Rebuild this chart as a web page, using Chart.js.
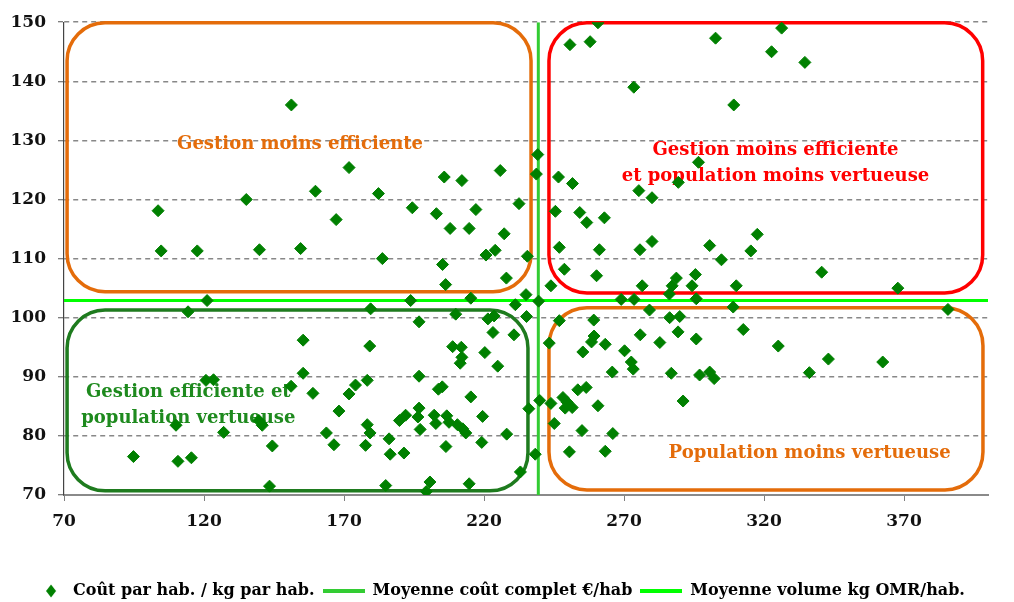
<!DOCTYPE html>
<html>
<head>
<meta charset="utf-8">
<script src="https://cdn.jsdelivr.net/npm/chart.js@4.4.1/dist/chart.umd.min.js"></script>
<style>
  html, body { margin: 0; background: #fff; }
</style>
</head>
<body>
<canvas id="chart" width="1014" height="602"></canvas>
<script>
// tick labels of the cost axis
const xTicks = [70, 120, 170, 220, 270, 320, 370];

// coût par hab. (€) for each collectivity
const coutParHab = [
  103.6, 104.7, 117.6, 151.2, 135.1, 139.8, 154.5, 159.8, 167.2, 171.8,
  182.3, 183.7, 194.4, 193.8, 239.2, 238.7, 205.8, 212.1, 225.8, 203.0,
  217.1, 232.5, 207.9, 214.7, 227.2, 224.0, 220.7, 235.5, 246.6, 251.6,
  275.3, 280.0, 245.5, 254.2, 256.7, 263.0, 273.5, 250.7, 257.9, 260.7,
  246.9, 261.2, 275.7, 280.0, 302.7, 326.3, 322.7, 334.6, 309.2, 296.6,
  289.4, 300.6, 317.6, 315.3, 304.8, 205.2, 206.3, 215.3, 228.0, 235.0,
  239.5, 248.7, 243.9, 260.2, 276.5, 288.7, 287.2, 286.2, 295.5, 294.3,
  310.1, 269.0, 273.6, 295.8, 340.6, 367.8, 385.7, 309.0, 286.3, 289.9,
  289.3, 295.8, 312.6, 325.1, 343.0, 362.4, 336.2, 286.9, 297.0, 300.6,
  302.2, 291.1, 282.8, 279.1, 275.8, 270.2, 265.8, 273.3, 272.6, 246.9,
  243.3, 255.3, 259.2, 259.3, 258.4, 263.3, 243.9, 248.2, 249.7, 251.5,
  249.0, 253.5, 256.5, 260.7, 245.1, 255.0, 266.0, 250.5, 263.3, 231.2,
  235.2, 209.9, 196.8, 221.4, 223.6, 223.2, 230.7, 179.2, 208.8, 211.9,
  212.1, 211.5, 220.3, 224.9, 179.5, 196.8, 178.3, 174.1, 171.8,
  203.7, 205.1, 215.3, 168.2, 163.7, 166.4, 178.3, 179.3, 177.7, 186.1,
  186.5, 191.4, 189.8, 192.0, 196.8, 196.4, 197.2, 202.2, 202.8, 206.7,
  207.5, 210.5, 212.4, 213.5, 219.5, 219.2, 206.4, 228.1, 236.0, 239.9,
  238.3, 233.0, 184.9, 200.7, 199.4, 214.7, 121.1, 114.3, 155.4, 155.4,
  120.7, 123.4, 151.1, 158.9, 139.6, 140.8, 110.0, 127.0, 144.4, 94.8,
  110.7, 115.5, 143.4
];

// kg OMR par hab. for the same collectivities
const kgParHab = [
  118.1, 111.3, 111.3, 136.0, 120.0, 111.5, 111.7, 121.4, 116.6, 125.4,
  121.0, 110.0, 118.6, 102.9, 127.6, 124.3, 123.8, 123.2, 124.9, 117.6,
  118.3, 119.3, 115.1, 115.1, 114.2, 111.4, 110.6, 110.4, 123.8, 122.7,
  121.5, 120.3, 118.0, 117.8, 116.1, 116.9, 139.0, 146.2, 146.7, 149.9,
  111.9, 111.5, 111.5, 112.9, 147.3, 149.0, 145.0, 143.2, 136.0, 126.3,
  122.9, 112.2, 114.1, 111.3, 109.8, 109.0, 105.6, 103.3, 106.7, 103.9,
  102.8, 108.2, 105.4, 107.1, 105.4, 106.7, 105.4, 104.0, 107.3, 105.4,
  105.4, 103.1, 103.1, 103.2, 107.7, 105.0, 101.4, 101.8, 100.0, 100.2,
  97.6, 96.4, 98.0, 95.2, 93.0, 92.5, 90.7, 90.6, 90.3, 90.8,
  89.7, 85.9, 95.8, 101.3, 97.1, 94.4, 90.8, 91.3, 92.5, 99.5,
  95.7, 94.2, 99.6, 96.9, 95.9, 95.5, 85.5, 86.5, 85.7, 84.8,
  84.7, 87.8, 88.2, 85.1, 82.1, 80.9, 80.4, 77.3, 77.4, 102.2,
  100.2, 100.6, 99.3, 99.8, 100.3, 97.5, 97.1, 95.2, 95.1, 95.0,
  93.3, 92.3, 94.1, 91.8, 101.5, 90.1, 89.4, 88.6, 87.1,
  87.9, 88.3, 86.6, 84.2, 80.5, 78.5, 81.9, 80.5, 78.4, 79.5,
  76.9, 77.1, 82.6, 83.5, 84.7, 83.2, 81.1, 83.5, 82.1, 83.4,
  82.3, 81.9, 81.2, 80.5, 83.3, 78.9, 78.2, 80.3, 84.6, 86.0,
  76.9, 73.9, 71.6, 72.2, 70.6, 71.9, 102.9, 101.0, 96.2, 90.6,
  89.4, 89.5, 88.4, 87.2, 82.6, 81.8, 81.8, 80.6, 78.3, 76.5,
  75.7, 76.3, 71.5
];

const moyenneCout = 239.4;
const moyenneVolume = 102.9;

const seriesNames = ['Coût par hab. / kg par hab.', 'Moyenne coût complet €/hab', 'Moyenne volume kg OMR/hab.'];

const SERIF = "'DejaVu Serif', serif";

function legendIcon(kind, color) {
  const c = document.createElement('canvas');
  c.width = 42;
  c.height = 16;
  const g = c.getContext('2d');
  g.fillStyle = color;
  g.strokeStyle = color;
  if (kind === 'diamond') {
    g.beginPath();
    g.moveTo(28, 1.5); g.lineTo(33, 8); g.lineTo(28, 14.5); g.lineTo(23, 8);
    g.closePath();
    g.fill();
  } else {
    g.lineWidth = 4;
    g.beginPath(); g.moveTo(0, 8); g.lineTo(42, 8); g.stroke();
  }
  return c;
}
const legendIcons = [legendIcon('diamond', '#008000'), legendIcon('line', '#33CC33'), legendIcon('line', '#00FF00')];

// rounded boxes and their captions
const zonesPlugin = {
  id: 'zones',
  beforeDatasetsDraw(chart) {
    const { ctx, scales: { x, y } } = chart;
    const box = (x0, x1, y0, y1, color) => {
      const l = x.getPixelForValue(x0), r = x.getPixelForValue(x1);
      const t = y.getPixelForValue(y1), b = y.getPixelForValue(y0);
      ctx.beginPath();
      ctx.roundRect(l, t, r - l, b - t, 38);
      ctx.lineWidth = 3.5;
      ctx.strokeStyle = color;
      ctx.stroke();
    };
    const text = (str, xv, yv, color) => {
      ctx.fillStyle = color;
      ctx.fillText(str, x.getPixelForValue(xv), y.getPixelForValue(yv));
    };
    ctx.save();
    box(71.1, 236.8, 104.4, 149.9, '#E46C0A');
    box(243.2, 398.1, 104.2, 149.9, '#FF0000');
    box(71.1, 235.7, 70.7, 101.3, '#1E7B1E');
    box(243.2, 398.2, 70.85, 101.7, '#E46C0A');

    ctx.font = 'bold 18px ' + SERIF;
    ctx.textAlign = 'center';
    ctx.textBaseline = 'middle';
    text('Gestion moins efficiente', 154.3, 129.3, '#E46C0A');
    text('Gestion moins efficiente', 324.1, 128.3, '#FF0000');
    text('et population moins vertueuse', 324.1, 124.0, '#FF0000');
    text('Gestion efficiente et', 114.4, 87.4, '#1E8A1E');
    text('population vertueuse', 114.4, 83.0, '#1E8A1E');
    text('Population moins vertueuse', 336.3, 77.0, '#E46C0A');
    ctx.restore();
  }
};

const tickFont = { family: SERIF, weight: 'bold', size: 17 };

new Chart(document.getElementById('chart'), {
  type: 'scatter',
  data: {
    datasets: [
      {
        label: seriesNames[0],
        data: coutParHab.map((v, i) => ({ x: v, y: kgParHab[i] })),
        pointStyle: 'rectRot',
        pointRadius: 6,
        borderWidth: 1,
        backgroundColor: '#008000',
        borderColor: '#008000'
      },
      {
        label: seriesNames[1],
        data: [{ x: moyenneCout, y: 70 }, { x: moyenneCout, y: 150 }],
        showLine: true,
        pointRadius: 0,
        borderWidth: 3,
        borderColor: '#33CC33',
        backgroundColor: '#33CC33'
      },
      {
        label: seriesNames[2],
        data: [{ x: 70, y: moyenneVolume }, { x: 400, y: moyenneVolume }],
        showLine: true,
        pointRadius: 0,
        borderWidth: 3,
        borderColor: '#00FF00',
        backgroundColor: '#00FF00'
      }
    ]
  },
  options: {
    responsive: false,
    animation: false,
    layout: { padding: { top: 22, right: 26, left: 0, bottom: -7 } },
    plugins: {
      tooltip: { enabled: false },
      legend: {
        position: 'bottom',
        labels: {
          usePointStyle: true,
          pointStyleWidth: 42,
          padding: 8,
          color: '#000',
          font: { family: SERIF, weight: 'bold', size: 16 },
          generateLabels(chart) {
            const items = Chart.defaults.plugins.legend.labels.generateLabels(chart);
            items.forEach((it, i) => { it.pointStyle = legendIcons[i]; });
            return items;
          }
        }
      }
    },
    scales: {
      x: {
        type: 'linear',
        min: 70,
        max: 400,
        afterBuildTicks: (s) => { s.ticks = xTicks.map((v) => ({ value: v })); },
        afterFit: (s) => { s.height = 80; },
        grid: { drawOnChartArea: false, drawTicks: true, tickLength: 6, tickColor: '#7f7f7f', tickWidth: 1 },
        border: { color: '#8a8a8a', width: 2 },
        ticks: { padding: 10, color: '#111', font: tickFont }
      },
      y: {
        min: 70,
        max: 150,
        afterFit: (s) => { s.width = 64; },
        grid: { color: '#888888', lineWidth: 1.5, tickLength: 6, tickColor: '#555', tickWidth: 1 },
        border: { dash: [5, 4], color: '#444', width: 1.2 },
        ticks: { stepSize: 10, padding: 12, color: '#111', font: tickFont }
      }
    }
  },
  plugins: [zonesPlugin]
});
</script>
</body>
</html>
